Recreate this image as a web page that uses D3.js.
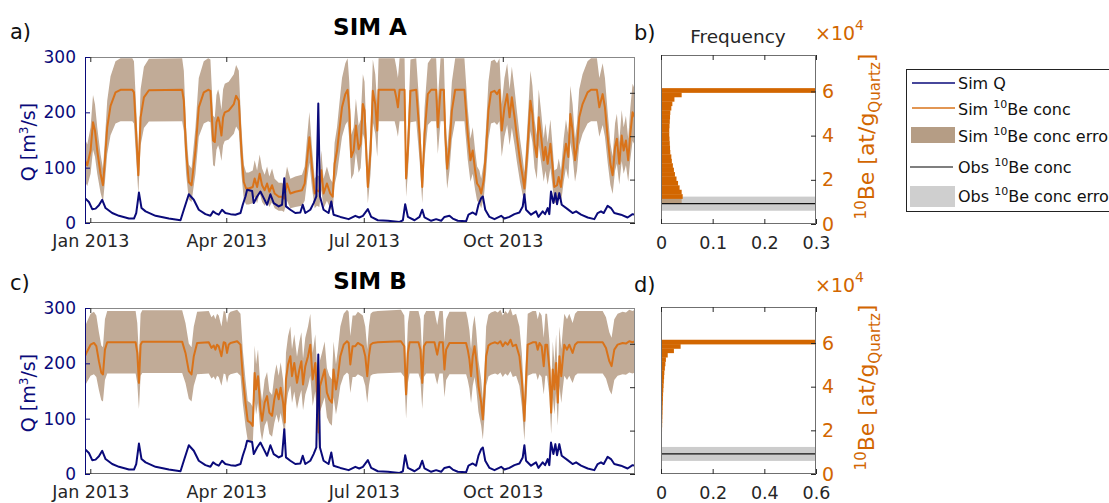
<!DOCTYPE html>
<html>
<head>
<meta charset="utf-8">
<script src="https://cdn.jsdelivr.net/npm/d3@7"></script>
<style>
  body { margin: 0; background: #fff; }
  svg { display: block; }
</style>
</head>
<body>
<svg width="1109" height="503"></svg>
<script>
// discharge + 10Be concentration, SIM A / SIM B, with frequency histograms

// [day since 1 Jan 2013, Q m3/s]
var qSeries = [[-3.5,45],[-0.9,38],[1.3,25],[3.5,26],[5.7,32],[7.9,42],[10.1,27],[14.5,18],[19,13],[25.6,8],
  [28.9,8],[30.4,18],[32.2,55],[33.9,27],[36.6,21],[43.2,13],[52,8],[59.7,5],[61.9,24],[65.2,52],
  [68.5,42],[71.8,24],[76.2,16],[79.5,13],[81.3,21],[82.8,18],[85,15],[87.2,24],[89.4,18],[92.8,16],
  [96,15],[99.4,18],[100.9,33],[102.7,48],[103.8,60],[107.1,58],[108.2,36],[110.4,48],[112.6,57],[114.8,45],
  [117,33],[119.2,52],[121.4,36],[124.7,30],[126.9,33],[128.4,81],[129.5,30],[132.4,24],[135.7,18],[139,19],
  [140.6,33],[142.3,18],[145.6,24],[147.8,36],[149.6,48],[150.9,216],[152,48],[154.4,24],[157.7,18],[159.5,39],
  [161,15],[165.5,11],[171,7],[175.4,13],[178,10],[180.4,13],[183.7,25],[185.9,11],[190.3,5],[197,4],
  [204.7,2],[206.9,5],[208.4,34],[210.2,11],[214.6,5],[217.9,11],[219.7,24],[221.2,10],[225.6,4],[228.9,7],
  [232.2,4],[234.4,11],[237.7,13],[239.9,8],[243.2,4],[248.7,3],[250.3,15],[253.1,19],[255.3,15],[256.9,33],
  [258.7,45],[259.8,48],[261.4,24],[264.2,11],[267.5,7],[271.9,13],[274.1,8],[277.4,11],[280.7,16],[284,19],
  [286.2,30],[287.3,52],[288.4,24],[291.7,15],[295,21],[296.6,11],[299.4,21],[301,16],[302.7,27],[303.8,16],
  [304.9,57],[306.5,36],[307.8,54],[308.9,34],[310.4,54],[312,33],[315.9,25],[319.2,18],[321.5,21],[324.8,15],
  [329.2,10],[333.6,7],[335.8,18],[338,21],[339.8,18],[342.4,31],[344.6,27],[346.8,18],[351.2,15],[355.6,10],
  [358.9,16],[360.4,15]];

// [day, 10Be conc x1e4 at/g]
var simAConc = [[-3.5,2.89],[-2,2.66],[0.2,3.34],[1.8,4.64],[3.1,4.26],[4.6,3.34],[6.8,2.27],[8.4,1.74],[9.7,2.89],[11.2,4.41],
  [13.4,5.40],[16.7,6.02],[20,6.14],[27.8,6.14],[28.9,6.02],[30.4,4.1],[31.8,2.2],[33.3,4.87],[35.5,5.79],[38.8,6.12],
  [60.8,6.14],[61.9,5.63],[63.4,3.34],[65.2,1.89],[67,1.74],[69.6,3.34],[71.8,5.33],[75.1,6.02],[78,6.14],[79.5,6.09],
  [81.3,3.80],[82.4,3.73],[83.5,4.64],[84.6,4.87],[85.5,4.64],[86.8,4.03],[87.9,4.87],[89,5.10],[91.6,5.18],[95,5.48],
  [96.5,5.86],[98.3,5.63],[100,3.34],[101.6,1.89],[103.1,1.59],[104.9,1.59],[107.5,1.66],[108.8,2.05],[110.4,1.66],[112.1,2.27],
  [113.7,1.74],[115.4,1.51],[117,1.82],[118.5,1.44],[120.3,1.74],[122,1.36],[124.7,1.21],[126.9,1.21],[128.2,1.13],[130.2,1.82],
  [132.4,1.36],[135.7,1.44],[140.1,1.51],[141.9,1.82],[143.4,2.89],[145,3.95],[146.7,2.58],[148.5,1.36],[150,1.51],[151.6,1.44],
  [152.9,2.43],[154.4,1.36],[156.6,1.82],[158.8,1.36],[160.4,1.21],[161.7,2.73],[163.3,3.34],[164.8,4.26],[166.6,5.33],[168.8,5.94],
  [170.3,6.14],[171.4,5.18],[172.7,3.04],[174.3,3.34],[175.8,4.49],[177.6,3.4],[178.9,3.65],[180.4,5.48],[181.5,5.18],[183.7,1.66],
  [185.5,3.34],[187,6.09],[188.6,5.48],[189.9,4.26],[190.8,6.14],[201.4,6.14],[202.5,5.79],[203.6,5.33],[204.7,6.14],[208,6.14],
  [209,2.05],[210.2,3.34],[211.9,6.09],[215.7,6.14],[217.9,4.11],[219.7,1.66],[221.2,4.11],[223.4,5.94],[225.6,6.14],[228.9,6.14],
  [230,4.41],[231.8,6.14],[234,6.14],[234.9,4.11],[236.2,2.50],[237.7,3.50],[239.3,5.18],[241.5,6.14],[247.6,6.14],[249.8,4.11],
  [251.6,2.89],[253.1,3.34],[254.7,2.43],[256,1.82],[257.5,1.66],[258.7,1.36],[260.4,1.97],[261.9,3.34],[263.5,5.18],[265.2,6.02],
  [267.5,6.09],[269.2,5.94],[270.8,6.14],[272.3,4.26],[274.1,5.33],[275.9,5.94],[277.5,4.87],[279,5.79],[280.8,4.87],[282.4,3.95],
  [284.4,2.89],[286.2,2.12],[287.3,1.59],[288.8,2.89],[290.2,4.41],[291.3,5.63],[292.6,5.02],[294,3.65],[295.5,3.04],[296.8,4.87],
  [298.4,3.95],[300.1,2.89],[301.2,3.50],[302.7,2.73],[304.5,3.65],[306,2.58],[307.1,1.66],[308.9,1.74],[310,2.12],[311.5,1.66],
  [313.3,2.89],[314.8,3.65],[316.4,3.04],[317.7,5.02],[319.2,4.26],[320.8,2.89],[322.1,3.50],[323.6,4.87],[325.8,5.48],[329.1,6.02],
  [331.4,6.14],[335.3,6.14],[336.9,5.33],[339.1,5.94],[340.6,5.33],[342.4,3.95],[344.2,2.73],[345.7,2.20],[347.3,3.50],[348.5,3.88],
  [350.1,2.73],[351.7,4.03],[353,3.34],[354.5,3.80],[356,2.89],[357.4,4.11],[358.9,5.10],[360.4,4.87]];

var simBConc = [[-3.5,5.43],[-2,5.66],[0.2,5.96],[2.4,6.04],[4,5.89],[5.7,5.20],[7.3,4.66],[8.4,4.59],[9.7,5.73],[11.2,6.07],
  [30,6.07],[31.1,5.58],[32.2,4.20],[33.3,5.96],[34.4,6.10],[60.8,6.10],[63,5.58],[65.2,4.74],[67,4.59],[68.5,5.43],
  [70.7,6.04],[78.4,6.07],[80.2,5.81],[81.7,5.92],[82.8,5.73],[83.9,5.96],[85,5.89],[86.8,5.43],[88.3,6.07],[89.4,6.04],
  [90.5,5.58],[91.6,5.96],[92.8,6.04],[97.2,6.12],[99.4,5.96],[100.9,4.51],[102.7,3.29],[104.2,2.45],[106,2.37],[107.5,2.22],
  [108.8,4.66],[109.7,3.90],[111,4.51],[112.6,2.98],[113.7,2.45],[115.4,3.29],[117,3.59],[118.5,2.83],[120.3,2.68],[121.8,3.44],
  [123.2,3.90],[124.7,3.44],[126,3.98],[127.6,3.29],[128.7,2.37],[129.5,4.36],[130.9,5.05],[132.4,5.43],[133.5,4.51],[135,5.12],
  [136.8,4.20],[138.4,4.82],[139.7,5.20],[140.8,4.13],[142.3,4.97],[144.1,5.43],[145.6,5.96],[147.2,4.36],[148.9,5.12],[150.5,3.29],
  [151.1,1.91],[152,4.05],[153.3,4.36],[155.1,4.82],[156.6,3.75],[158.2,3.44],[159.9,3.29],[161,4.82],[162.6,3.90],[163.9,4.51],
  [165.5,5.43],[167.7,5.96],[169.9,6.12],[171,6.04],[172.1,5.05],[173.6,5.89],[175.4,5.89],[177.1,6.04],[178.9,5.96],[180.4,5.89],
  [182,5.43],[183.3,4.51],[184.4,5.43],[185.5,5.96],[187,6.04],[190.3,6.07],[205.6,6.12],[207.8,5.89],[209,3.67],[210.2,5.58],
  [211.3,6.07],[217.2,6.07],[218.5,5.73],[219.7,4.20],[220.8,5.89],[222.3,6.07],[227.8,6.07],[229.6,5.50],[231.1,6.07],[233.3,6.07],
  [234.4,4.82],[235.5,5.73],[237.7,6.04],[248.7,6.04],[249.8,5.73],[250.9,5.28],[252,4.51],[253.1,5.43],[254.3,5.89],[255.4,5.28],
  [256.9,4.05],[258.7,3.29],[259.8,2.52],[260.9,3.75],[262,5.43],[263.5,5.92],[265.2,6.01],[267.9,6.07],[269.7,6.01],[271.4,6.12],
  [273,5.89],[274.6,6.07],[276.3,5.96],[278.1,6.19],[279.6,5.89],[281.8,5.96],[284,5.43],[285.6,4.36],[287.3,2.45],[288.4,4.36],
  [289.5,5.96],[292.8,6.07],[295,6.07],[296.1,5.73],[297.3,6.04],[298.7,5.89],[300.1,4.97],[301.2,5.96],[302.3,5.96],[303.9,4.82],
  [305,2.83],[306.1,4.82],[307.2,3.90],[308.3,5.12],[309.4,3.29],[310.5,5.43],[311.7,4.51],[312.8,5.35],[313.7,5.96],[315.5,5.73],
  [317,5.96],[319.2,5.58],[320.8,5.96],[322.5,6.07],[339.1,6.07],[341.3,5.81],[343.5,5.20],[345,4.97],[346.8,5.73],[349,5.96],
  [352.3,6.04],[354.5,6.01],[356.7,6.12],[358.9,6.07],[360.4,6.12]];

// sim error half-width = errCoef * sqrt(conc)
var errCoef = 0.585;

// observed 10Be (x1e4) and its error
var obsConc = 0.92;
var obsErr = 0.32;

// histograms: [bin lower edge (x1e4), frequency], bin width 0.2
var histA = [[1.15,0.042],[1.35,0.040],[1.55,0.036],[1.75,0.033],[1.95,0.030],[2.15,0.027],[2.35,0.025],[2.55,0.023],
  [2.75,0.021],[2.95,0.020],[3.15,0.018],[3.35,0.0175],[3.55,0.017],[3.75,0.0165],[3.95,0.016],[4.15,0.016],
  [4.35,0.0165],[4.55,0.017],[4.75,0.0175],[4.95,0.018],[5.15,0.020],[5.35,0.022],[5.55,0.026],[5.75,0.040],[5.95,0.62]];
var histAErr = [[0.95,0.040]];
var histB = [[1.55,0.003],[1.75,0.0035],[1.95,0.004],[2.15,0.0045],[2.35,0.005],[2.55,0.0055],[2.75,0.006],[2.95,0.0065],
  [3.15,0.007],[3.35,0.0075],[3.55,0.008],[3.75,0.009],[3.95,0.010],[4.15,0.011],[4.35,0.012],[4.55,0.013],
  [4.75,0.015],[4.95,0.017],[5.15,0.019],[5.35,0.026],[5.55,0.050],[5.75,0.076],[5.95,0.82]];
var binW = 0.2;

var dateTicks = ["2013-01-01", "2013-04-01", "2013-07-01", "2013-10-01"];
var concTicks = [0, 2, 4, 6];
var qTicks = [0, 100, 200, 300];

var FONT = "'DejaVu Sans', 'Liberation Sans', Arial, sans-serif";
var NAVY = "#0a0a7a";
var ORANGE = "#d9731a";
var HORANGE = "#d26600";
var BAND = "#c1ab97";
var BOX = "#888888";
var TXT = "#262626";

var svg = d3.select("svg");
var day0 = new Date(2013, 0, 1);
function toDate(d) { return new Date(day0.getTime() + d * 864e5); }

var tsLeft = 85, tsRight = 635, hLeft = 661, hRight = 816;
var x = d3.scaleTime().domain([toDate(-3.5), toDate(360.5)]).range([tsLeft, tsRight]);
var tickDates = dateTicks.map(function(s) { return d3.timeParse("%Y-%m-%d")(s); });

function styleAxis(g, lineColor, textColor, size) {
    g.select(".domain").remove();
    g.selectAll(".tick line").attr("stroke", lineColor);
    g.selectAll(".tick text").attr("fill", textColor).attr("font-size", size).attr("font-family", FONT);
}

function timePanel(top, bottom, conc, id, letter, title, titleY) {
    var yQ = d3.scaleLinear().domain([0, 300]).range([bottom, top]);
    var yC = d3.scaleLinear().domain([0, 7.65]).range([bottom, top]);

    svg.append("clipPath").attr("id", id).append("rect")
        .attr("x", tsLeft).attr("y", top).attr("width", tsRight - tsLeft).attr("height", bottom - top);
    var plot = svg.append("g").attr("clip-path", "url(#" + id + ")");

    plot.append("path").datum(conc)
        .attr("d", d3.area()
            .x(function(d) { return x(toDate(d[0])); })
            .y0(function(d) { return yC(d[1] - errCoef * Math.sqrt(d[1])); })
            .y1(function(d) { return yC(d[1] + errCoef * Math.sqrt(d[1])); }))
        .attr("fill", BAND);

    plot.append("path").datum(conc)
        .attr("d", d3.line()
            .x(function(d) { return x(toDate(d[0])); })
            .y(function(d) { return yC(d[1]); }))
        .attr("fill", "none").attr("stroke", ORANGE).attr("stroke-width", 2).attr("stroke-linejoin", "round");

    plot.append("path").datum(qSeries)
        .attr("d", d3.line()
            .x(function(d) { return x(toDate(d[0])); })
            .y(function(d) { return yQ(d[1]); }))
        .attr("fill", "none").attr("stroke", NAVY).attr("stroke-width", 2).attr("stroke-linejoin", "round");

    // box
    svg.append("line").attr("x1", tsLeft).attr("x2", tsRight).attr("y1", top + 0.5).attr("y2", top + 0.5).attr("stroke", BOX);
    svg.append("line").attr("x1", tsRight - 0.5).attr("x2", tsRight - 0.5).attr("y1", top).attr("y2", bottom).attr("stroke", BOX);
    svg.append("line").attr("x1", tsLeft).attr("x2", tsRight).attr("y1", bottom - 0.5).attr("y2", bottom - 0.5).attr("stroke", "#6a6a6a");
    svg.append("line").attr("x1", tsLeft + 0.5).attr("x2", tsLeft + 0.5).attr("y1", top).attr("y2", bottom).attr("stroke", NAVY);

    var gx = svg.append("g").attr("transform", "translate(0," + bottom + ")")
        .call(d3.axisBottom(x).tickValues(tickDates).tickFormat(d3.timeFormat("%b %Y"))
            .tickSizeInner(-5).tickSizeOuter(0).tickPadding(12));
    styleAxis(gx, TXT, TXT, 17.5);
    var gxt = svg.append("g").attr("transform", "translate(0," + top + ")")
        .call(d3.axisTop(x).tickValues(tickDates).tickFormat("").tickSizeInner(-5).tickSizeOuter(0));
    styleAxis(gxt, TXT, TXT, 1);

    var gy = svg.append("g").attr("transform", "translate(" + tsLeft + ",0)")
        .call(d3.axisLeft(yQ).tickValues(qTicks).tickSizeInner(-5).tickSizeOuter(0).tickPadding(9));
    styleAxis(gy, NAVY, NAVY, 17);
    var gyr = svg.append("g").attr("transform", "translate(" + tsRight + ",0)")
        .call(d3.axisRight(yC).tickValues(concTicks).tickFormat("").tickSizeInner(-5).tickSizeOuter(0));
    styleAxis(gyr, TXT, TXT, 1);

    var ql = svg.append("text").attr("transform", "translate(35," + ((top + bottom) / 2 + 2) + ") rotate(-90)")
        .attr("text-anchor", "middle").attr("fill", NAVY).attr("font-family", FONT).attr("font-size", 19);
    ql.append("tspan").text("Q [m");
    ql.append("tspan").attr("dy", -7).attr("font-size", 12).text("3");
    ql.append("tspan").attr("dy", 7).text("/s]");

    svg.append("text").attr("x", 10).attr("y", top - 18).attr("fill", "#111").attr("font-family", FONT)
        .attr("font-size", 21).text(letter);
    svg.append("text").attr("x", 370).attr("y", titleY).attr("text-anchor", "middle").attr("fill", "#000")
        .attr("font-family", FONT).attr("font-weight", "bold").attr("font-size", 23).text(title);
}

function histPanel(top, bottom, hist, histErr, fMax, fTicks, id, letter, showFreq) {
    var xF = d3.scaleLinear().domain([0, fMax]).range([hLeft, hRight]);
    var yC = d3.scaleLinear().domain([0, 7.65]).range([bottom, top]);

    svg.append("clipPath").attr("id", id).append("rect")
        .attr("x", hLeft).attr("y", top).attr("width", hRight - hLeft).attr("height", bottom - top);
    var plot = svg.append("g").attr("clip-path", "url(#" + id + ")");

    plot.append("rect").attr("x", hLeft).attr("width", hRight - hLeft)
        .attr("y", yC(obsConc + obsErr)).attr("height", yC(obsConc - obsErr) - yC(obsConc + obsErr))
        .attr("fill", "#cccccc");

    plot.selectAll("rect.err").data(histErr).enter().append("rect").attr("class", "err")
        .attr("x", hLeft)
        .attr("y", function(d) { return yC(d[0] + binW); })
        .attr("width", function(d) { return xF(d[1]) - hLeft; })
        .attr("height", function(d) { return yC(d[0]) - yC(d[0] + binW); })
        .attr("fill", "#b89c7e");

    plot.selectAll("rect.bin").data(hist).enter().append("rect").attr("class", "bin")
        .attr("x", hLeft)
        .attr("y", function(d) { return yC(d[0] + binW); })
        .attr("width", function(d) { return xF(d[1]) - hLeft; })
        .attr("height", function(d) { return yC(d[0]) - yC(d[0] + binW) + 0.3; })
        .attr("fill", HORANGE);

    plot.append("line").attr("x1", hLeft).attr("x2", hRight)
        .attr("y1", yC(obsConc)).attr("y2", yC(obsConc)).attr("stroke", "#111").attr("stroke-width", 1.3);

    svg.append("rect").attr("x", hLeft + 0.5).attr("y", top + 0.5).attr("width", hRight - hLeft - 1)
        .attr("height", bottom - top - 1).attr("fill", "none").attr("stroke", "#6f6f6f");

    var gx = svg.append("g").attr("transform", "translate(0," + bottom + ")")
        .call(d3.axisBottom(xF).tickValues(fTicks).tickFormat(function(d) { return d === 0 ? "0" : d.toFixed(1); })
            .tickSizeInner(-5).tickSizeOuter(0).tickPadding(13));
    styleAxis(gx, TXT, TXT, 17.5);
    var gxt = svg.append("g").attr("transform", "translate(0," + top + ")")
        .call(d3.axisTop(xF).tickValues(fTicks).tickFormat("").tickSizeInner(-5).tickSizeOuter(0));
    styleAxis(gxt, TXT, TXT, 1);

    var gy = svg.append("g").attr("transform", "translate(" + hRight + ",0)")
        .call(d3.axisRight(yC).tickValues(concTicks).tickSizeInner(-5).tickSizeOuter(0).tickPadding(6));
    styleAxis(gy, TXT, HORANGE, 19);

    var bl = svg.append("text").attr("transform", "translate(874," + ((top + bottom) / 2 - 3) + ") rotate(-90)")
        .attr("text-anchor", "middle").attr("fill", HORANGE).attr("font-family", FONT).attr("font-size", 22);
    bl.append("tspan").attr("dy", -8).attr("font-size", 15).text("10");
    bl.append("tspan").attr("dy", 8).text("Be [at/g");
    bl.append("tspan").attr("dy", 6).attr("font-size", 15).text("Quartz");
    bl.append("tspan").attr("dy", -6).text("]");

    var mult = svg.append("text").attr("x", 815).attr("y", top - 15).attr("fill", HORANGE)
        .attr("font-family", FONT).attr("font-size", 19);
    mult.append("tspan").text("\u00d710");
    mult.append("tspan").attr("dy", -10).attr("font-size", 14).text("4");

    svg.append("text").attr("x", 634).attr("y", top - 15).attr("fill", "#111").attr("font-family", FONT)
        .attr("font-size", 21).text(letter);
    if (showFreq) {
        svg.append("text").attr("x", 738).attr("y", top - 12).attr("text-anchor", "middle").attr("fill", TXT)
            .attr("font-family", FONT).attr("font-size", 18.5).text("Frequency");
    }
}

timePanel(57, 223, simAConc, "clipA", "a)", "SIM A", 35);
timePanel(308, 474, simBConc, "clipC", "c)", "SIM B", 289);
histPanel(55, 224, histA, histAErr, 0.3, [0, 0.1, 0.2, 0.3], "clipB", "b)", true);
histPanel(307, 474, histB, [], 0.6, [0, 0.2, 0.4, 0.6], "clipD", "d)", false);

// legend
var lg = svg.append("g").attr("font-family", FONT).attr("font-size", 16).attr("fill", "#111");
lg.append("rect").attr("x", 906.5).attr("y", 69.5).attr("width", 230).attr("height", 142)
    .attr("fill", "#fff").attr("stroke", "#222");
lg.append("line").attr("x1", 912).attr("x2", 955).attr("y1", 83).attr("y2", 83).attr("stroke", NAVY).attr("stroke-width", 1.5);
lg.append("line").attr("x1", 912).attr("x2", 955).attr("y1", 108).attr("y2", 108).attr("stroke", ORANGE).attr("stroke-width", 1.5);
lg.append("rect").attr("x", 911).attr("y", 127).attr("width", 44).attr("height", 16).attr("fill", "#b59d85");
lg.append("line").attr("x1", 910).attr("x2", 953).attr("y1", 167).attr("y2", 167).attr("stroke", "#555").attr("stroke-width", 1.5);
lg.append("rect").attr("x", 910).attr("y", 186).attr("width", 45).attr("height", 21).attr("fill", "#cfcfcf");

var legendItems = [
    { y: 89, pre: "Sim Q", sup: "", post: "" },
    { y: 115, pre: "Sim ", sup: "10", post: "Be conc" },
    { y: 142, pre: "Sim ", sup: "10", post: "Be conc error" },
    { y: 173, pre: "Obs ", sup: "10", post: "Be conc" },
    { y: 202, pre: "Obs ", sup: "10", post: "Be conc error" }
];
legendItems.forEach(function(it) {
    var t = lg.append("text").attr("x", 958).attr("y", it.y);
    t.append("tspan").text(it.pre);
    if (it.sup) {
        t.append("tspan").attr("dy", -7).attr("font-size", 11).text(it.sup);
        t.append("tspan").attr("dy", 7).text(it.post);
    }
});
</script>
</body>
</html>
